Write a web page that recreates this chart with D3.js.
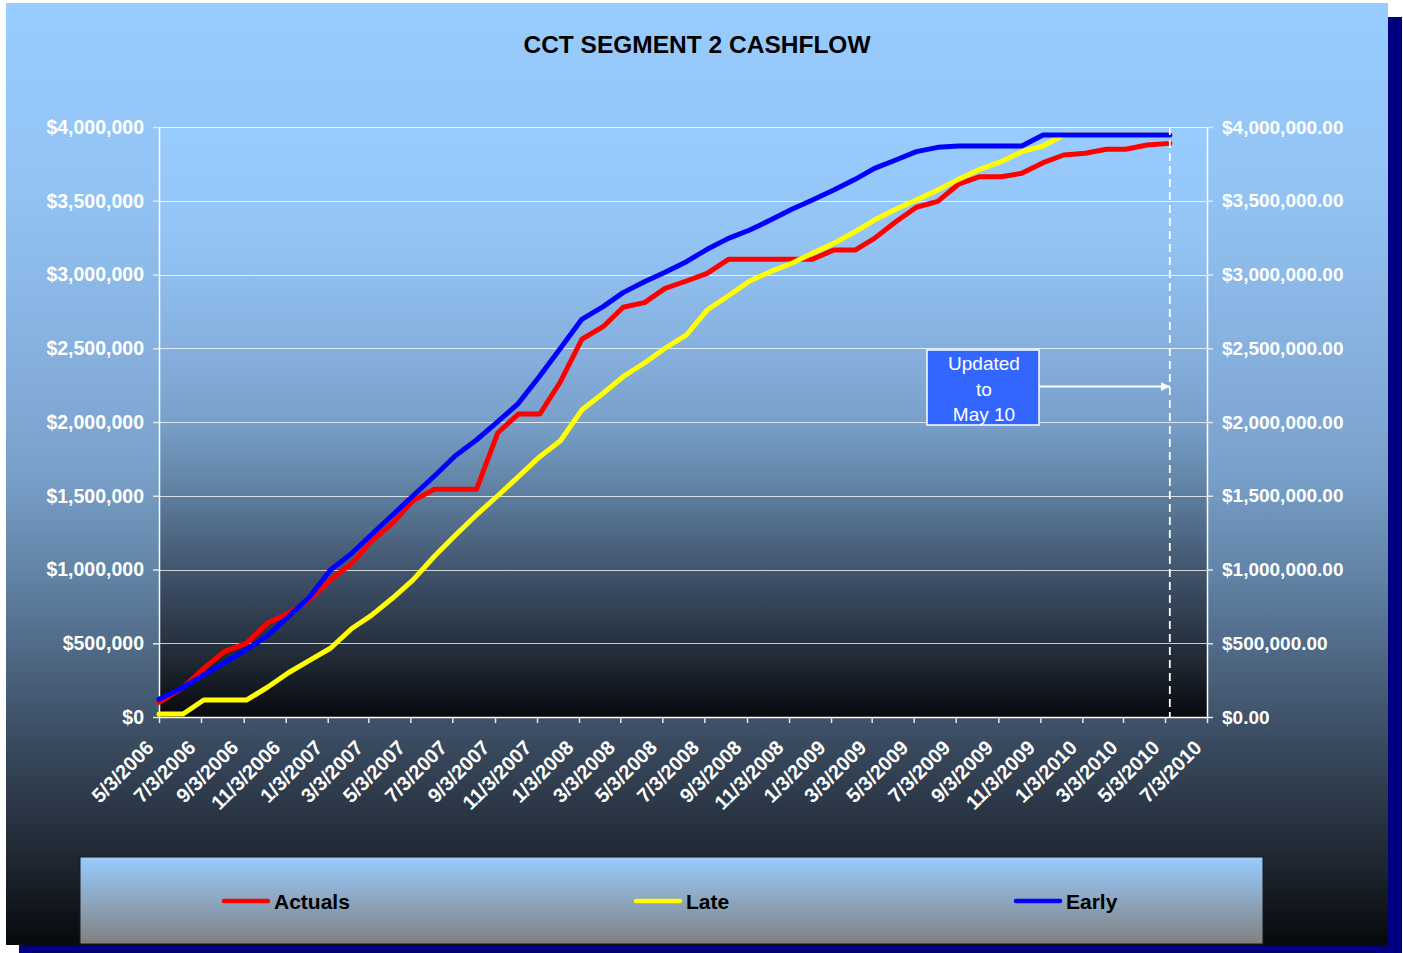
<!DOCTYPE html>
<html>
<head>
<meta charset="utf-8">
<script src="https://cdn.jsdelivr.net/npm/d3@7"></script>
<style>
  body { margin: 0; background: #fff; }
  svg  { display: block; font-family: "Liberation Sans", Arial, sans-serif; }
</style>
</head>
<body>
<div id="chart"></div>
<script>
// ── Data ─────────────────────────────────────────────────────
const dates = [
  "5/3/2006", "6/7/2006", "7/7/2006", "8/7/2006", "9/7/2006", "10/7/2006", "11/7/2006", "12/7/2006",
  "1/7/2007", "2/7/2007", "3/7/2007", "4/7/2007", "5/7/2007", "6/7/2007", "7/7/2007", "8/7/2007",
  "9/7/2007", "10/7/2007", "11/7/2007", "12/7/2007",
  "1/7/2008", "2/7/2008", "3/7/2008", "4/7/2008", "5/7/2008", "6/7/2008", "7/7/2008", "8/7/2008",
  "9/7/2008", "10/7/2008", "11/7/2008", "12/7/2008",
  "1/7/2009", "2/7/2009", "3/7/2009", "4/7/2009", "5/7/2009", "6/7/2009", "7/7/2009", "8/7/2009",
  "9/7/2009", "10/7/2009", "11/7/2009", "12/7/2009",
  "1/7/2010", "2/7/2010", "3/7/2010", "4/7/2010", "5/10/2010"
];

const actuals = [
  100000, 200000, 330000, 447000, 500000, 635000, 703000, 793000,
  929000, 1042000, 1189000, 1313000, 1467000, 1544000, 1544000, 1544000,
  1927000, 2054000, 2054000, 2273000,
  2561000, 2646000, 2778000, 2809000, 2906000, 2956000, 3008000, 3103000,
  3103000, 3103000, 3103000, 3103000,
  3166000, 3166000, 3245000, 3358000, 3456000, 3496000, 3612000, 3663000,
  3663000, 3686000, 3758000, 3810000,
  3822000, 3849000, 3849000, 3878000, 3889000
];

const late = [
  20000, 20000, 115000, 115000, 115000, 200000, 300000, 382000,
  466000, 600000, 687000, 805000, 930000, 1090000, 1230000, 1370000,
  1500000, 1630000, 1765000, 1873000,
  2081000, 2195000, 2307000, 2400000, 2500000, 2590000, 2759000, 2856000,
  2956000, 3019000, 3076000, 3144000,
  3211000, 3290000, 3369000, 3442000, 3505000, 3573000, 3645000, 3713000,
  3765000, 3833000, 3871000, 3946000,
  3946000, 3946000, 3946000, 3946000, 3946000
];

const early = [
  120000, 200000, 285000, 370000, 456000, 550000, 680000, 810000,
  997000, 1110000, 1234000, 1369000, 1500000, 1634000, 1769000, 1878000,
  2002000, 2127000, 2312000, 2500000,
  2696000, 2782000, 2877000, 2951000, 3015000, 3087000, 3171000, 3245000,
  3302000, 3369000, 3442000, 3505000,
  3573000, 3645000, 3720000, 3776000, 3833000, 3862000, 3871000, 3871000,
  3871000, 3871000, 3946000, 3946000,
  3946000, 3946000, 3946000, 3946000, 3946000
];

const tickLabels = [
  "5/3/2006", "7/3/2006", "9/3/2006", "11/3/2006",
  "1/3/2007", "3/3/2007", "5/3/2007", "7/3/2007", "9/3/2007", "11/3/2007",
  "1/3/2008", "3/3/2008", "5/3/2008", "7/3/2008", "9/3/2008", "11/3/2008",
  "1/3/2009", "3/3/2009", "5/3/2009", "7/3/2009", "9/3/2009", "11/3/2009",
  "1/3/2010", "3/3/2010", "5/3/2010", "7/3/2010"
];

const yTicks = [0, 500000, 1000000, 1500000, 2000000, 2500000, 3000000, 3500000, 4000000];

const seriesNames  = ["Actuals", "Late", "Early"];
const seriesColors = ["#ff0000", "#ffff00", "#0000ff"];
const updateDate   = "5/10/2010";
const updateNote   = ["Updated", "to", "May 10"];
const titleText    = "CCT SEGMENT 2 CASHFLOW";

// ── Layout ───────────────────────────────────────────────────
const W = 1403, H = 953;
const plot = { left: 159, right: 1207, top: 127, bottom: 717 };

const parse = d3.timeParse("%-m/%-d/%Y");

const svg = d3.select("#chart").append("svg")
  .attr("width", W)
  .attr("height", H);

// gradients
const defs = svg.append("defs");
const bg = defs.append("linearGradient")
  .attr("id", "bgGrad").attr("x1", 0).attr("y1", 0).attr("x2", 0).attr("y2", 1);
[[0, "#99ccff"], [0.2, "#92c3f3"], [0.4, "#84addb"], [0.5, "#78a0c9"],
 [0.6, "#6385a8"], [0.7, "#4d6581"], [0.8, "#36465a"], [0.9, "#212a35"], [1, "#07090c"]]
  .forEach(([o, c]) => bg.append("stop").attr("offset", o).attr("stop-color", c));

const lg = defs.append("linearGradient")
  .attr("id", "legGrad").attr("x1", 0).attr("y1", 0).attr("x2", 0).attr("y2", 1);
lg.append("stop").attr("offset", 0).attr("stop-color", "#99ccff");
lg.append("stop").attr("offset", 1).attr("stop-color", "#808080");

defs.append("marker")
  .attr("id", "arrowHead")
  .attr("viewBox", "0 0 10 10")
  .attr("refX", 10).attr("refY", 5)
  .attr("markerWidth", 4.5).attr("markerHeight", 4.5)
  .attr("orient", "auto")
  .append("path").attr("d", "M0,0 L10,5 L0,10 Z").attr("fill", "#fff");

// shadow + panel
svg.append("rect")
  .attr("x", 19).attr("y", 17).attr("width", 1383).attr("height", 936)
  .attr("fill", "#000080");
svg.append("rect")
  .attr("x", 6).attr("y", 3).attr("width", 1382).attr("height", 942)
  .attr("fill", "url(#bgGrad)");

// plot area
svg.append("rect")
  .attr("x", plot.left).attr("y", plot.top)
  .attr("width", plot.right - plot.left).attr("height", plot.bottom - plot.top)
  .attr("fill", "url(#bgGrad)");

// ── Scales ───────────────────────────────────────────────────
const x = d3.scaleTime()
  .domain([parse(tickLabels[0]), parse(tickLabels[tickLabels.length - 1])])
  .range([plot.left, plot.right]);

const y = d3.scaleLinear()
  .domain([0, 4000000])
  .range([plot.bottom, plot.top]);

// grid lines
svg.append("g")
  .selectAll("line")
  .data(yTicks.filter(d => d > 0))
  .join("line")
    .attr("x1", plot.left).attr("x2", plot.right)
    .attr("y1", d => Math.round(y(d)) + 0.5)
    .attr("y2", d => Math.round(y(d)) + 0.5)
    .attr("stroke", "#ffffff")
    .attr("stroke-opacity", 0.75)
    .attr("stroke-width", 1);

// ── Axes ─────────────────────────────────────────────────────
const styleAxis = (g, size) => {
  g.selectAll(".domain").attr("stroke", "#ffffff").attr("stroke-width", 1.5);
  g.selectAll(".tick line").attr("stroke", "#e6e6e6").attr("stroke-width", 1.5);
  g.selectAll("text")
    .attr("fill", "#ffffff")
    .attr("font-size", size)
    .attr("font-weight", "bold")
    .attr("font-family", "'Liberation Sans', Arial, sans-serif");
};

svg.append("g")
  .attr("transform", `translate(${plot.left},0)`)
  .call(d3.axisLeft(y).tickValues(yTicks).tickSize(6).tickSizeOuter(0).tickPadding(9)
    .tickFormat(d => "$" + d3.format(",")(d)))
  .call(styleAxis, 19.5);

svg.append("g")
  .attr("transform", `translate(${plot.right},0)`)
  .call(d3.axisRight(y).tickValues(yTicks).tickSize(6).tickSizeOuter(0).tickPadding(9)
    .tickFormat(d => "$" + d3.format(",.2f")(d)))
  .call(styleAxis, 19);

const tickDates = tickLabels.map(parse);

svg.append("g")
  .attr("transform", `translate(0,${plot.bottom})`)
  .call(d3.axisBottom(x).tickValues(tickDates).tickSize(6).tickSizeOuter(0).tickFormat(""))
  .call(styleAxis, 19);

svg.append("g")
  .selectAll("text")
  .data(tickLabels)
  .join("text")
    .attr("transform", d => `translate(${x(parse(d)) - 9},${plot.bottom + 27}) rotate(-45)`)
    .attr("text-anchor", "end")
    .attr("dy", "0.35em")
    .attr("fill", "#ffffff")
    .attr("font-size", 20)
    .attr("font-weight", "bold")
    .text(d => d);

// ── Lines ────────────────────────────────────────────────────
const points = dates.map(parse);
const lineGen = d3.line()
  .x((d, i) => x(points[i]))
  .y(d => y(d));

[actuals, late, early].forEach((vals, i) => {
  svg.append("path")
    .datum(vals)
    .attr("d", lineGen)
    .attr("fill", "none")
    .attr("stroke", seriesColors[i])
    .attr("stroke-width", 5)
    .attr("stroke-linejoin", "round")
    .attr("stroke-linecap", "round");
});

// ── Update marker ────────────────────────────────────────────
const ux = x(parse(updateDate));
svg.append("line")
  .attr("x1", ux).attr("x2", ux)
  .attr("y1", plot.top).attr("y2", plot.bottom)
  .attr("stroke", "#ffffff")
  .attr("stroke-width", 1.8)
  .attr("stroke-dasharray", "8,5");

const noteY = y(2240000);
const box = { x: 927, y: 350, w: 112, h: 75 };
svg.append("rect")
  .attr("x", box.x).attr("y", box.y).attr("width", box.w).attr("height", box.h)
  .attr("fill", "#3366ff")
  .attr("stroke", "#ffffff")
  .attr("stroke-width", 1.5);

svg.append("g")
  .selectAll("text")
  .data(updateNote)
  .join("text")
    .attr("x", box.x + box.w / 2 + 1)
    .attr("y", (d, i) => box.y + 20 + i * 25.5)
    .attr("text-anchor", "middle")
    .attr("fill", "#ffffff")
    .attr("font-size", 19)
    .text(d => d);

svg.append("line")
  .attr("x1", box.x + box.w).attr("x2", ux)
  .attr("y1", noteY).attr("y2", noteY)
  .attr("stroke", "#ffffff")
  .attr("stroke-width", 2)
  .attr("marker-end", "url(#arrowHead)");

// ── Title ────────────────────────────────────────────────────
svg.append("text")
  .attr("x", 697).attr("y", 53)
  .attr("text-anchor", "middle")
  .attr("font-size", 24.5)
  .attr("font-weight", "bold")
  .attr("fill", "#000000")
  .text(titleText);

// ── Legend ───────────────────────────────────────────────────
svg.append("rect")
  .attr("x", 80).attr("y", 857).attr("width", 1183).attr("height", 87)
  .attr("fill", "url(#legGrad)")
  .attr("stroke", "#1a1a1a")
  .attr("stroke-width", 1);

const legendX = [224, 636, 1016];
const leg = svg.append("g")
  .selectAll("g")
  .data(seriesNames)
  .join("g")
    .attr("transform", (d, i) => `translate(${legendX[i]},901)`);

leg.append("line")
  .attr("x1", 0).attr("x2", 44)
  .attr("stroke", (d, i) => seriesColors[i])
  .attr("stroke-width", 4.5)
  .attr("stroke-linecap", "round");

leg.append("text")
  .attr("x", 50).attr("y", 8)
  .attr("font-size", 21)
  .attr("font-weight", "bold")
  .attr("fill", "#000000")
  .text(d => d);
</script>
</body>
</html>
